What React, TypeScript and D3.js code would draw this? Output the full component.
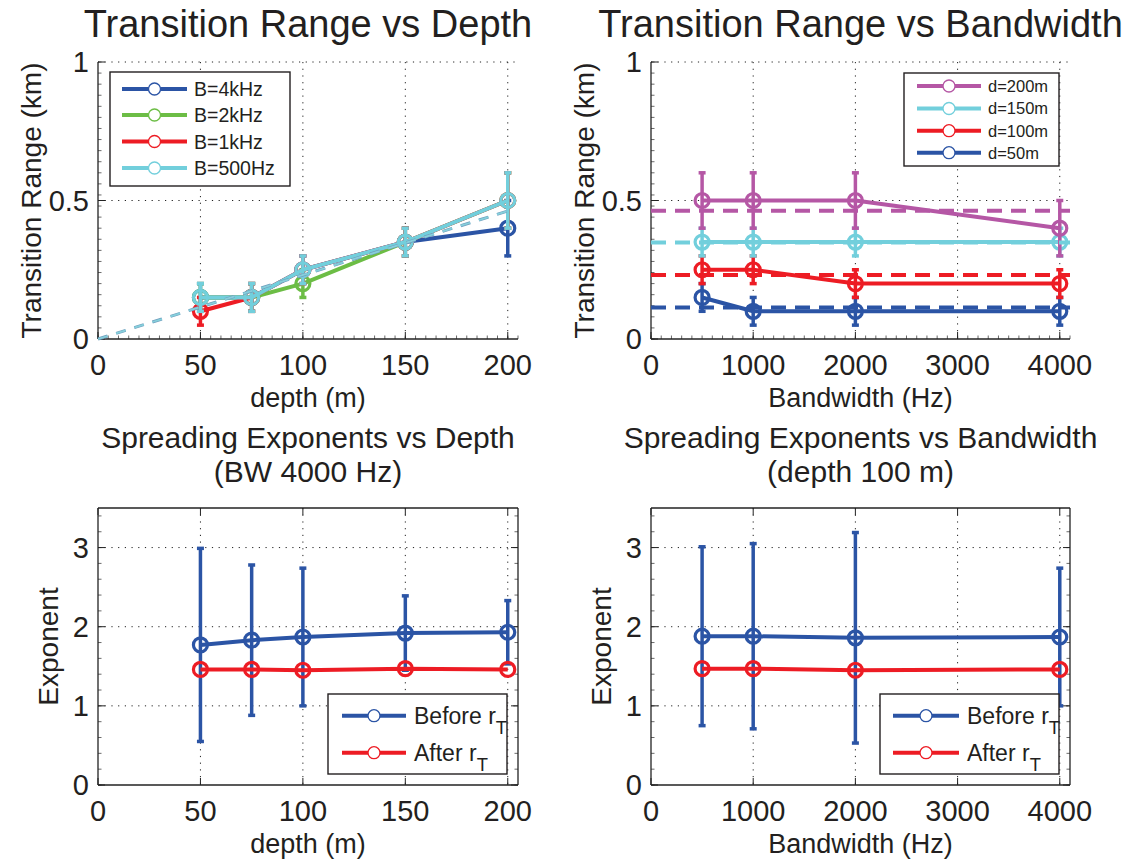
import React from 'react';
import * as d3 from 'd3';

const FONT = '"Liberation Sans", Arial, Helvetica, sans-serif';

const BLUE = '#2b54a5';
const GREEN = '#6cbd45';
const RED = '#ed1c24';
const CYAN = '#72cfdc';
const PURPLE = '#b557a5';

// ---- data ----
const depths = [50, 75, 100, 150, 200];
const bandwidths = [500, 1000, 2000, 4000];

// transition range vs depth (km), one list per bandwidth
const trB4k = [0.15, 0.15, 0.25, 0.35, 0.4];
const trB2k = [0.15, 0.15, 0.2, 0.35, 0.5];
const trB1k = [0.1, 0.15, 0.25, 0.35, 0.5];
const trB500 = [0.15, 0.15, 0.25, 0.35, 0.5];
const trDepthErr = [0.05, 0.05, 0.05, 0.05, 0.1];
const fitDepths = [0, 200];
const fitRange = [0, 0.462];

// transition range vs bandwidth (km), one list per depth
const trD200 = [0.5, 0.5, 0.5, 0.4];
const trD150 = [0.35, 0.35, 0.35, 0.35];
const trD100 = [0.25, 0.25, 0.2, 0.2];
const trD50 = [0.15, 0.1, 0.1, 0.1];
const trD200Err = [0.1, 0.1, 0.1, 0.1];
const trBwErr = [0.05, 0.05, 0.05, 0.05];
const trBwMean = [0.463, 0.348, 0.231, 0.114]; // d=200,150,100,50

// spreading exponents
const expBeforeDepth = [1.77, 1.83, 1.87, 1.92, 1.93];
const expBeforeDepthErr = [1.22, 0.95, 0.87, 0.47, 0.4];
const expAfterDepth = [1.46, 1.46, 1.45, 1.47, 1.46];
const expBeforeBw = [1.88, 1.88, 1.86, 1.87];
const expBeforeBwErr = [1.13, 1.17, 1.33, 0.87];
const expAfterBw = [1.47, 1.47, 1.45, 1.46];

const depthTicks = [0, 50, 100, 150, 200];
const bwTicks = [0, 1000, 2000, 3000, 4000];
const rangeTicks = [0, 0.5, 1];
const expTicks = [0, 1, 2, 3];

type Series = { xs: number[]; ys: number[]; err?: number[]; color: string };
type RefLine = { xs: number[]; ys: number[]; color: string; width: number; dash: string };
type Box = { left: number; right: number; top: number; bottom: number };
type Legend = {
  box: Box;
  rows: number[];
  lineX: [number, number];
  textX: number;
  fontSize: number;
  items: { label: string; sub?: string; color: string }[];
};

interface PanelProps {
  box: Box;
  xDomain: [number, number];
  yDomain: [number, number];
  xTicks: number[];
  yTicks: number[];
  xMinorStep?: number;
  yMinorStep?: number;
  boxed: boolean;
  series: Series[];
  refAfter?: RefLine[];
  title: string[];
  titleSize: number;
  titleY: number[];
  xLabel: string;
  yLabel: string;
  yLabelX: number;
  legend: Legend;
}

const Panel = (p: PanelProps) => {
  const { box } = p;
  const x = d3.scaleLinear().domain(p.xDomain).range([box.left, box.right]);
  const y = d3.scaleLinear().domain(p.yDomain).range([box.bottom, box.top]);
  const line = (xs: number[], ys: number[]) =>
    d3.line<number>().x((d, i) => x(xs[i])).y(d => y(d))(ys) || '';

  const xMinor = p.xMinorStep ? d3.range(p.xDomain[0], p.xDomain[1] + 1e-9, p.xMinorStep) : [];
  const yMinor = p.yMinorStep ? d3.range(p.yDomain[0], p.yDomain[1] + 1e-9, p.yMinorStep) : [];
  const fmt = d3.format('~g');
  const cx = (box.left + box.right) / 2;
  const cy = (box.top + box.bottom) / 2;

  const drawRef = (r: RefLine, i: number) => (
    <path key={i} d={line(r.xs, r.ys)} fill="none" stroke={r.color}
      strokeWidth={r.width} strokeDasharray={r.dash} />
  );

  return (
    <g>
      {/* grid */}
      {p.xTicks.filter(t => t > p.xDomain[0]).map(t => (
        <line key={'gx' + t} x1={x(t)} x2={x(t)} y1={box.top} y2={box.bottom}
          stroke="#222" strokeWidth={1} strokeDasharray="1.2,5.5" />
      ))}
      {p.yTicks.filter(t => t > p.yDomain[0]).map(t => (
        <line key={'gy' + t} x1={box.left} x2={box.right} y1={y(t)} y2={y(t)}
          stroke="#222" strokeWidth={1} strokeDasharray="1.2,5.5" />
      ))}

      {/* minor ticks */}
      {xMinor.map((t, i) => (
        <line key={'mx' + i} x1={x(t)} x2={x(t)} y1={box.bottom} y2={box.bottom - 3.5}
          stroke="#444" strokeWidth={0.8} />
      ))}
      {yMinor.map((t, i) => (
        <g key={'my' + i}>
          <line x1={box.left} x2={box.left + 3.5} y1={y(t)} y2={y(t)} stroke="#444" strokeWidth={0.8} />
          {p.boxed && <line x1={box.right} x2={box.right - 3.5} y1={y(t)} y2={y(t)} stroke="#444" strokeWidth={0.8} />}
        </g>
      ))}

      {/* major ticks */}
      {p.xTicks.map(t => (
        <g key={'tx' + t}>
          <line x1={x(t)} x2={x(t)} y1={box.bottom} y2={box.bottom - 7} stroke="#222" strokeWidth={1} />
          {p.boxed && <line x1={x(t)} x2={x(t)} y1={box.top} y2={box.top + 7} stroke="#222" strokeWidth={1} />}
          <text x={x(t)} y={box.bottom + 36} textAnchor="middle" fontSize={29}
            fill="#231f20">{fmt(t)}</text>
        </g>
      ))}
      {p.yTicks.map(t => (
        <g key={'ty' + t}>
          <line x1={box.left} x2={box.left + 7} y1={y(t)} y2={y(t)} stroke="#222" strokeWidth={1} />
          {p.boxed && <line x1={box.right} x2={box.right - 7} y1={y(t)} y2={y(t)} stroke="#222" strokeWidth={1} />}
          <text x={box.left - 9} y={y(t) + 10} textAnchor="end" fontSize={29}
            fill="#231f20">{fmt(t)}</text>
        </g>
      ))}

      {/* axis lines */}
      <line x1={box.left} x2={box.right} y1={box.bottom} y2={box.bottom} stroke="#222" strokeWidth={1.3} />
      <line x1={box.left} x2={box.left} y1={box.top} y2={box.bottom} stroke="#222" strokeWidth={1.3} />
      {p.boxed && (
        <>
          <line x1={box.left} x2={box.right} y1={box.top} y2={box.top} stroke="#222" strokeWidth={1.3} />
          <line x1={box.right} x2={box.right} y1={box.top} y2={box.bottom} stroke="#222" strokeWidth={1.3} />
        </>
      )}

      {/* data */}
      {p.series.map((s, si) => (
        <g key={'s' + si}>
          <path d={line(s.xs, s.ys)} fill="none" stroke={s.color} strokeWidth={4} strokeLinejoin="round" />
          {s.err && s.ys.map((v, i) => {
            const e = s.err![i];
            const px = x(s.xs[i]);
            return (
              <g key={'e' + i} stroke={s.color} strokeWidth={3.5}>
                <line x1={px} x2={px} y1={y(v - e)} y2={y(v + e)} />
                <line x1={px - 3.5} x2={px + 3.5} y1={y(v - e)} y2={y(v - e)} />
                <line x1={px - 3.5} x2={px + 3.5} y1={y(v + e)} y2={y(v + e)} />
              </g>
            );
          })}
          {s.ys.map((v, i) => (
            <circle key={'c' + i} cx={x(s.xs[i])} cy={y(v)} r={7} fill="none"
              stroke={s.color} strokeWidth={3.2} />
          ))}
        </g>
      ))}

      {(p.refAfter || []).map(drawRef)}

      {/* titles and labels */}
      {p.title.map((t, i) => (
        <text key={'ti' + i} x={cx} y={p.titleY[i]} textAnchor="middle" fontSize={p.titleSize}
          fill="#231f20">{t}</text>
      ))}
      <text x={cx} y={box.bottom + 68} textAnchor="middle" fontSize={27} fill="#231f20">{p.xLabel}</text>
      <text transform={`translate(${p.yLabelX},${cy}) rotate(-90)`} textAnchor="middle"
        fontSize={28} fill="#231f20">{p.yLabel}</text>

      {/* legend */}
      <rect x={p.legend.box.left} y={p.legend.box.top}
        width={p.legend.box.right - p.legend.box.left}
        height={p.legend.box.bottom - p.legend.box.top}
        fill="#fff" stroke="#231f20" strokeWidth={1.4} />
      {p.legend.items.map((it, i) => {
        const ry = p.legend.rows[i];
        const [lx0, lx1] = p.legend.lineX;
        const fs = p.legend.fontSize;
        return (
          <g key={'lg' + i}>
            <line x1={lx0} x2={lx1} y1={ry} y2={ry} stroke={it.color} strokeWidth={4} />
            <circle cx={(lx0 + lx1) / 2} cy={ry} r={6} fill="#fff" stroke={it.color} strokeWidth={1.3} />
            <text x={p.legend.textX} y={ry + fs * 0.36} fontSize={fs} fill="#231f20">
              {it.label}
              {it.sub && (
                <tspan dy={fs * 0.42} fontSize={fs * 0.8}>{it.sub}</tspan>
              )}
            </text>
          </g>
        );
      })}
    </g>
  );
};

const App = () => {
  const topL: Box = { left: 98, right: 518, top: 62, bottom: 339 };
  const topR: Box = { left: 651, right: 1070, top: 62, bottom: 339 };
  const botL: Box = { left: 98, right: 518, top: 508, bottom: 785 };
  const botR: Box = { left: 651, right: 1070, top: 508, bottom: 785 };

  return (
    <svg width={1139} height={861} fontFamily={FONT}
      style={{ position: 'absolute', left: 0, top: 0, background: '#fff' }}>
      <Panel
        box={topL}
        xDomain={[0, 205]}
        yDomain={[0, 1]}
        xTicks={depthTicks}
        yTicks={rangeTicks}
        xMinorStep={5}
        yMinorStep={0.04}
        boxed={false}
        series={[
          { xs: depths, ys: trB4k, err: trDepthErr, color: BLUE },
          { xs: depths, ys: trB2k, err: trDepthErr, color: GREEN },
          { xs: depths, ys: trB1k, err: trDepthErr, color: RED },
          { xs: depths, ys: trB500, err: trDepthErr, color: CYAN },
        ]}
        refAfter={[
          { xs: fitDepths, ys: fitRange, color: '#6f9dbd', width: 3, dash: '10,9' },
          { xs: fitDepths, ys: fitRange, color: '#86cfdb', width: 1.8, dash: '10,9' },
        ]}
        title={['Transition Range vs Depth']}
        titleSize={38}
        titleY={[37]}
        xLabel="depth (m)"
        yLabel="Transition Range (km)"
        yLabelX={41}
        legend={{
          box: { left: 110, right: 290, top: 72, bottom: 186 },
          rows: [89, 115, 141.5, 168],
          lineX: [122, 187],
          textX: 194,
          fontSize: 19.5,
          items: [
            { label: 'B=4kHz', color: BLUE },
            { label: 'B=2kHz', color: GREEN },
            { label: 'B=1kHz', color: RED },
            { label: 'B=500Hz', color: CYAN },
          ],
        }}
      />
      <Panel
        box={topR}
        xDomain={[0, 4100]}
        yDomain={[0, 1]}
        xTicks={bwTicks}
        yTicks={rangeTicks}
        xMinorStep={100}
        yMinorStep={0.04}
        boxed={false}
        series={[
          { xs: bandwidths, ys: trD50, err: trBwErr, color: BLUE },
          { xs: bandwidths, ys: trD100, err: trBwErr, color: RED },
          { xs: bandwidths, ys: trD150, err: trBwErr, color: CYAN },
          { xs: bandwidths, ys: trD200, err: trD200Err, color: PURPLE },
        ]}
        refAfter={[
          { xs: [0, 4100], ys: [trBwMean[0], trBwMean[0]], color: PURPLE, width: 4, dash: '15,9' },
          { xs: [0, 4100], ys: [trBwMean[1], trBwMean[1]], color: CYAN, width: 4, dash: '15,9' },
          { xs: [0, 4100], ys: [trBwMean[2], trBwMean[2]], color: RED, width: 4, dash: '15,9' },
          { xs: [0, 4100], ys: [trBwMean[3], trBwMean[3]], color: BLUE, width: 4, dash: '15,9' },
        ]}
        title={['Transition Range vs Bandwidth']}
        titleSize={38}
        titleY={[37]}
        xLabel="Bandwidth (Hz)"
        yLabel="Transition Range (km)"
        yLabelX={594}
        legend={{
          box: { left: 904, right: 1059, top: 73, bottom: 166 },
          rows: [86, 108.5, 130.7, 152.7],
          lineX: [917, 981],
          textX: 988,
          fontSize: 16.5,
          items: [
            { label: 'd=200m', color: PURPLE },
            { label: 'd=150m', color: CYAN },
            { label: 'd=100m', color: RED },
            { label: 'd=50m', color: BLUE },
          ],
        }}
      />
      <Panel
        box={botL}
        xDomain={[0, 205]}
        yDomain={[0, 3.5]}
        xTicks={depthTicks}
        yTicks={expTicks}
        yMinorStep={0.2}
        boxed={true}
        series={[
          { xs: depths, ys: expBeforeDepth, err: expBeforeDepthErr, color: BLUE },
          { xs: depths, ys: expAfterDepth, color: RED },
        ]}
        title={['Spreading Exponents vs Depth', '(BW 4000 Hz)']}
        titleSize={30}
        titleY={[448, 482]}
        xLabel="depth (m)"
        yLabel="Exponent"
        yLabelX={58}
        legend={{
          box: { left: 328, right: 507, top: 694, bottom: 774 },
          rows: [715.7, 752.7],
          lineX: [342, 406],
          textX: 414,
          fontSize: 23,
          items: [
            { label: 'Before r', sub: 'T', color: BLUE },
            { label: 'After r', sub: 'T', color: RED },
          ],
        }}
      />
      <Panel
        box={botR}
        xDomain={[0, 4100]}
        yDomain={[0, 3.5]}
        xTicks={bwTicks}
        yTicks={expTicks}
        yMinorStep={0.2}
        boxed={true}
        series={[
          { xs: bandwidths, ys: expBeforeBw, err: expBeforeBwErr, color: BLUE },
          { xs: bandwidths, ys: expAfterBw, color: RED },
        ]}
        title={['Spreading Exponents vs Bandwidth', '(depth 100 m)']}
        titleSize={30}
        titleY={[448, 482]}
        xLabel="Bandwidth (Hz)"
        yLabel="Exponent"
        yLabelX={611}
        legend={{
          box: { left: 880, right: 1059, top: 694, bottom: 774 },
          rows: [715.7, 752.7],
          lineX: [893, 959],
          textX: 967,
          fontSize: 23,
          items: [
            { label: 'Before r', sub: 'T', color: BLUE },
            { label: 'After r', sub: 'T', color: RED },
          ],
        }}
      />
    </svg>
  );
};

export default App;
